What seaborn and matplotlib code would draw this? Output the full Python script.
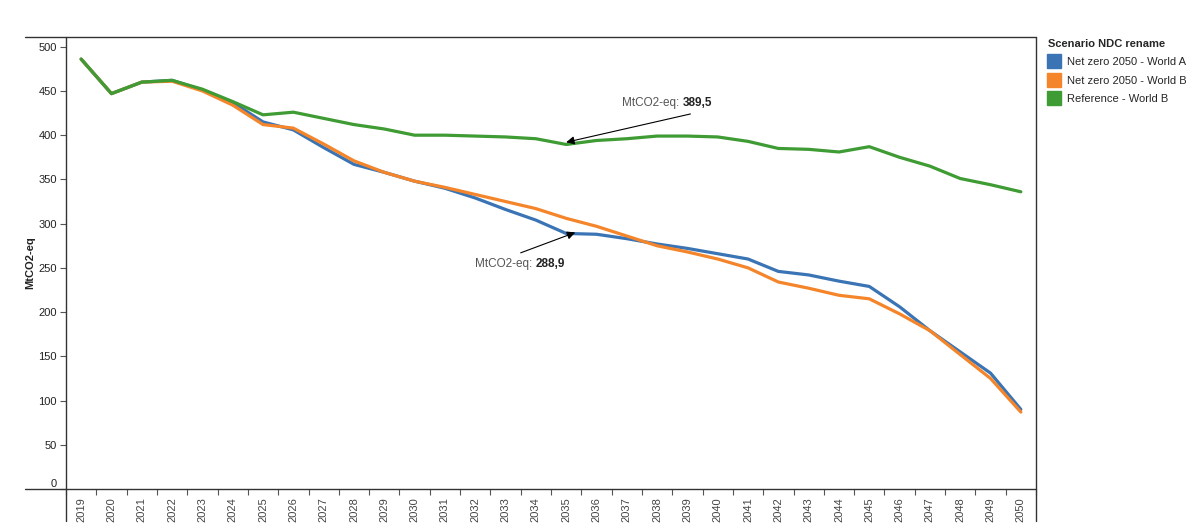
import pandas as pd
import numpy as np

import matplotlib.pyplot as plt
from matplotlib.lines import Line2D
import seaborn as sns

# Data (MtCO2-eq)
years = list(range(2019, 2051))

net_zero_a = [486, 447, 460, 462, 451, 437, 415, 406, 386, 367, 358, 348, 340, 329, 316, 304,
              288.9, 288, 283, 277, 272, 266, 260, 246, 242, 235, 229, 206, 179, 155, 131, 90]
net_zero_b = [486, 447, 460, 461, 450, 434, 412, 408, 390, 371, 358, 348, 341, 333, 325, 317,
              306, 297, 286, 275, 268, 260, 250, 234, 227, 219, 215, 198, 179, 152, 125, 87]
reference_b = [486, 447, 460, 462, 452, 438, 423, 426, 419, 412, 407, 400, 400, 399, 398, 396,
               389.5, 394, 396, 399, 399, 398, 393, 385, 384, 381, 387, 375, 365, 351, 344, 336]

scenarios = ['Net zero 2050 - World A', 'Net zero 2050 - World B', 'Reference - World B']
colors = ['#3a74b4', '#f4852a', '#3f9b33']
y_ticks = list(range(0, 501, 50))

df = pd.DataFrame({'year': years,
                   scenarios[0]: net_zero_a,
                   scenarios[1]: net_zero_b,
                   scenarios[2]: reference_b})
long_df = df.melt(id_vars='year', var_name='scenario', value_name='value')

sns.set_style('white')
plt.rcParams['font.family'] = ['Liberation Sans', 'DejaVu Sans']

fig = plt.figure(figsize=(12, 5.31), dpi=100)
ax = fig.add_axes([66 / 1200, 1 - 489 / 531, 970 / 1200, 452 / 531])

sns.lineplot(data=long_df, x='year', y='value', hue='scenario', hue_order=scenarios,
             palette=colors, linewidth=2.3, legend=False, ax=ax)

ax.set_xlim(2018.5, 2050.5)
ax.set_ylim(0, 511)

# Axis ticks: year labels centered, tick marks on band edges
ax.set_xticks(years)
ax.set_xticklabels([str(y) for y in years], rotation=90, fontsize=8, color='#444444')
ax.set_xticks(np.arange(2018.5, 2051, 1), minor=True)
ax.tick_params(axis='x', which='major', length=0, pad=6)
ax.tick_params(axis='x', which='minor', length=4, width=0.8, color='#555555', bottom=True)
ax.set_yticks(y_ticks)
ax.set_yticklabels([str(v) for v in y_ticks], fontsize=8, color='#222222')
ax.tick_params(axis='y', length=4, width=0.8, color='#555555', left=True, pad=2.5)
ax.get_yticklabels()[0].set_va('bottom')
ax.set_xlabel('')
ax.set_ylabel('MtCO2-eq', fontsize=8, fontweight='bold', color='#222222', labelpad=2)
ax.grid(False)

# Frame lines like the original
for s in ax.spines.values():
    s.set_visible(False)
ext_left = (25 - 66) / 970
ext_down = (489 - 521) / 452
frame_kw = dict(transform=ax.transAxes, clip_on=False, color='#333333', lw=1.0)
ax.plot([ext_left, 1], [1, 1], **frame_kw)
ax.plot([ext_left, 1], [0, 0], **frame_kw)
ax.plot([0, 0], [ext_down, 1], **frame_kw)
ax.plot([1, 1], [ext_down, 1], **frame_kw)

# Annotations
arrow_kw = dict(arrowstyle='-|>', color='black', lw=0.8, mutation_scale=12, shrinkA=0, shrinkB=0)
ax.annotate('', xy=(2035, 392), xytext=(2039.1, 424), arrowprops=arrow_kw)
ax.text(2038.85, 436, 'MtCO2-eq: ', ha='right', va='center', fontsize=8.5, color='#555555')
ax.text(2038.85, 436, '389,5', ha='left', va='center', fontsize=8.5, fontweight='bold', color='#222222')

ax.annotate('', xy=(2035.3, 290), xytext=(2033.5, 267), arrowprops=arrow_kw)
ax.text(2034.0, 254, 'MtCO2-eq: ', ha='right', va='center', fontsize=8.5, color='#555555')
ax.text(2034.0, 254, '288,9', ha='left', va='center', fontsize=8.5, fontweight='bold', color='#222222')

# Legend
handles = [Line2D([], [], marker='s', linestyle='', color=c, markersize=10) for c in colors]
leg = ax.legend(handles, scenarios, title='Scenario NDC rename', loc='upper left',
                bbox_to_anchor=(1048 / 1200, 1 - 39 / 531), bbox_transform=fig.transFigure,
                frameon=False, fontsize=8, title_fontsize=8, handlelength=1.0,
                handletextpad=0.7, labelspacing=0.75, borderpad=0, borderaxespad=0)
leg.get_title().set_fontweight('bold')
leg._legend_box.align = 'left'

fig.savefig('out.png', dpi=100)
